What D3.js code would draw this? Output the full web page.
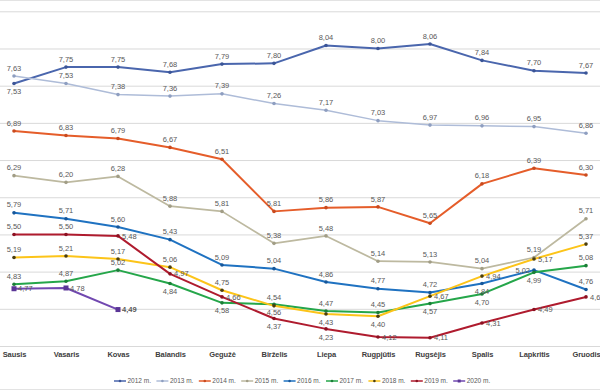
<!DOCTYPE html>
<html>
<head>
<meta charset="utf-8">
<script src="https://cdn.jsdelivr.net/npm/d3@7"></script>
<style>
  body { margin: 0; background: #fff; }
  text { font-family: "Liberation Sans", Arial, sans-serif; }
  .grid line { stroke: #d9d9d9; stroke-width: 1; }
  .lbl { font-size: 7.5px; fill: #595959; }
  .xlab { font-size: 7.5px; font-weight: bold; fill: #404040; letter-spacing: -0.1px; }
  .leg { font-size: 6.5px; fill: #595959; }
</style>
</head>
<body>
<div id="chart"></div>
<script>
var svgWidth = 600;
var svgHeight = 390;

// Data
var months = ["Sausis", "Vasaris", "Kovas", "Balandis", "Gegužė", "Birželis",
  "Liepa", "Rugpjūtis", "Rugsėjis", "Spalis", "Lapkritis", "Gruodis"];
var yTicks = [4.0, 4.5, 5.0, 5.5, 6.0, 6.5, 7.0, 7.5, 8.0, 8.5];

var v2012 = [7.53, 7.75, 7.75, 7.68, 7.79, 7.80, 8.04, 8.00, 8.06, 7.84, 7.70, 7.67];
var v2013 = [7.63, 7.53, 7.38, 7.36, 7.39, 7.26, 7.17, 7.03, 6.97, 6.96, 6.95, 6.86];
var v2014 = [6.89, 6.83, 6.79, 6.67, 6.51, 5.81, 5.86, 5.87, 5.65, 6.18, 6.39, 6.30];
var v2015 = [6.29, 6.20, 6.28, 5.88, 5.81, 5.38, 5.48, 5.14, 5.13, 5.04, 5.19, 5.71];
var v2016 = [5.79, 5.71, 5.60, 5.43, 5.09, 5.04, 4.86, 4.77, 4.72, 4.84, 5.02, 4.76];
var v2017 = [4.83, 4.87, 5.02, 4.84, 4.58, 4.56, 4.47, 4.45, 4.57, 4.70, 4.99, 5.08];
var v2018 = [5.19, 5.21, 5.17, 5.06, 4.75, 4.54, 4.43, 4.40, 4.67, 4.94, 5.17, 5.37];
var v2019 = [5.50, 5.50, 5.48, 4.97, 4.66, 4.37, 4.23, 4.12, 4.11, 4.31, 4.49, 4.66];
var v2020 = [4.77, 4.78, 4.49];

// label placement per point: t = above, b = below, r = right, l = left
var pos2012 = "bttttttttttt";
var pos2013 = "tttttttttttt";
var pos2014 = "tttttttttttt";
var pos2015 = "tttttttttttt";
var pos2016 = "tttttttttblt";
var pos2017 = "tttbbbttbbbt";
var pos2018 = "ttttttbbrrrt";
var pos2019 = "ttrrrbbrrrrr";
var pos2020 = "rrr";

var series = [
  { name: "2012 m.", values: v2012, pos: pos2012, color: "#4a66ad", marker: "#3b5597", width: 2 },
  { name: "2013 m.", values: v2013, pos: pos2013, color: "#aebcd8", marker: "#8e9ec0", width: 1.5 },
  { name: "2014 m.", values: v2014, pos: pos2014, color: "#e55d2a", marker: "#c94a1e", width: 2 },
  { name: "2015 m.", values: v2015, pos: pos2015, color: "#bdb9a0", marker: "#a19d86", width: 1.75 },
  { name: "2016 m.", values: v2016, pos: pos2016, color: "#1f72c1", marker: "#16569a", width: 2 },
  { name: "2017 m.", values: v2017, pos: pos2017, color: "#25a64a", marker: "#1b7e37", width: 2 },
  { name: "2018 m.", values: v2018, pos: pos2018, color: "#fcc419", marker: "#4a3d10", width: 2 },
  { name: "2019 m.", values: v2019, pos: pos2019, color: "#af1b2e", marker: "#8c1121", width: 2 },
  { name: "2020 m.", values: v2020, pos: pos2020, color: "#7148b0", marker: "#5a3596", width: 2 }
];

var svg = d3.select("#chart")
  .append("svg")
  .attr("width", svgWidth)
  .attr("height", svgHeight);

// Scales
var xScale = d3.scalePoint()
  .domain(months)
  .range([14, 586]);

var yScale = d3.scaleLinear()
  .domain([4, 8.5])
  .range([346, 11.3]);

// chart border top/bottom
svg.append("line").attr("x1", 0).attr("x2", svgWidth).attr("y1", 0.5).attr("y2", 0.5)
  .attr("stroke", "#e3e3e3");
svg.append("line").attr("x1", 0).attr("x2", svgWidth).attr("y1", 389.5).attr("y2", 389.5)
  .attr("stroke", "#e3e3e3");

// Gridlines
var yAxis = d3.axisLeft(yScale)
  .tickValues(yTicks)
  .tickSize(-svgWidth)
  .tickFormat("");

svg.append("g")
  .attr("class", "grid")
  .call(yAxis)
  .call(g => g.select(".domain").remove());

// x labels
var xAxis = d3.axisBottom(xScale).tickSize(0).tickPadding(0);
var xg = svg.append("g")
  .attr("transform", "translate(0, 352)")
  .call(xAxis);
xg.select(".domain").remove();
xg.selectAll("text")
  .attr("class", "xlab")
  .attr("font-family", null)
  .attr("font-size", null)
  .attr("fill", null)
  .attr("dy", "0.7em");

var line = d3.line()
  .x((d, i) => xScale(months[i]))
  .y(d => yScale(d));

// Lines
series.forEach(function(s) {
  svg.append("path")
    .datum(s.values)
    .attr("fill", "none")
    .attr("stroke", s.color)
    .attr("stroke-width", s.width)
    .attr("stroke-linejoin", "round")
    .attr("d", line);
});

// Markers
series.forEach(function(s) {
  var g = svg.append("g");
  if (s.name === "2020 m.") {
    g.selectAll("rect").data(s.values).enter()
      .append("rect")
      .attr("x", (d, i) => xScale(months[i]) - 2.5)
      .attr("y", d => yScale(d) - 2.5)
      .attr("width", 5)
      .attr("height", 5)
      .attr("fill", s.marker);
  } else {
    g.selectAll("circle").data(s.values).enter()
      .append("circle")
      .attr("cx", (d, i) => xScale(months[i]))
      .attr("cy", d => yScale(d))
      .attr("r", 1.8)
      .attr("fill", s.marker);
  }
});

// Data labels
var fmt = d => d.toFixed(2).replace(".", ",");
series.forEach(function(s) {
  svg.append("g").selectAll("text").data(s.values).enter()
    .append("text")
    .attr("class", "lbl")
    .attr("x", function(d, i) {
      var p = s.pos[i];
      var x = xScale(months[i]);
      if (p === "r") return x + 4;
      if (p === "l") return x - 4;
      return x;
    })
    .attr("y", function(d, i) {
      var p = s.pos[i];
      var y = yScale(d);
      if (p === "t") return y - 8;
      if (p === "b") return y + 8;
      return y;
    })
    .attr("dy", "0.35em")
    .attr("text-anchor", function(d, i) {
      var p = s.pos[i];
      if (p === "r") return "start";
      if (p === "l") return "end";
      return "middle";
    })
    .attr("font-weight", (d, i) => (s.name === "2020 m." && i === 2) ? "bold" : null)
    .attr("fill", (d, i) => (s.name === "2020 m." && i === 2) ? "#262626" : null)
    .text(fmt);
});

// Legend
var legend = svg.append("g")
  .attr("transform", "translate(114, 381)");

var legItems = legend.selectAll("g").data(series).enter()
  .append("g")
  .attr("transform", (d, i) => `translate(${i * 42.4}, 0)`);

legItems.append("line")
  .attr("x1", 0).attr("x2", 12)
  .attr("stroke", d => d.color)
  .attr("stroke-width", 1.5);

legItems.each(function(d) {
  var g = d3.select(this);
  if (d.name === "2020 m.") {
    g.append("rect").attr("x", 4.5).attr("y", -1.5).attr("width", 3).attr("height", 3).attr("fill", d.marker);
  } else {
    g.append("circle").attr("cx", 6).attr("cy", 0).attr("r", 1.3).attr("fill", d.marker);
  }
});

legItems.append("text")
  .attr("class", "leg")
  .attr("x", 13.5)
  .attr("dy", "0.35em")
  .text(d => d.name);
</script>
</body>
</html>
